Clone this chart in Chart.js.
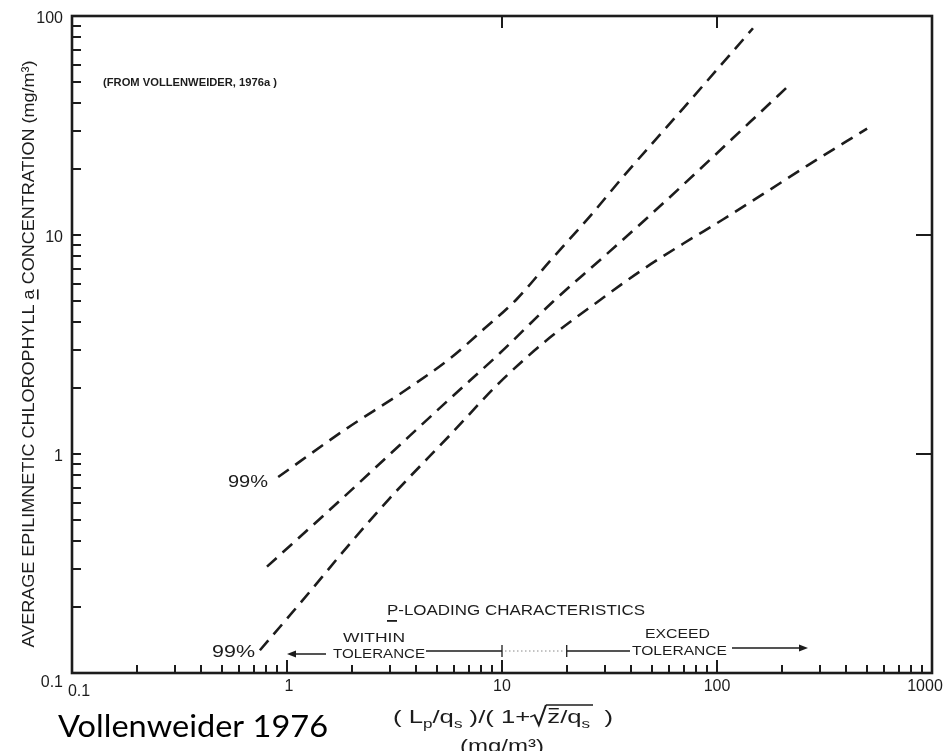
<!DOCTYPE html>
<html><head><meta charset="utf-8">
<script src="https://cdn.jsdelivr.net/npm/chart.js@4.4.1/dist/chart.umd.min.js"></script>
<style>html,body{margin:0;padding:0;background:#fff;}#wrap{width:946px;height:751px;position:relative;overflow:hidden;}</style>
</head><body><div id="wrap"><canvas id="c" width="946" height="751"></canvas></div>
<script>
// ---- data (x: P-loading, y: chlorophyll a) ----
const X_UPPER = [0.91, 1.90, 3.35, 5.73, 8.16, 11.7, 16.7, 25.7, 36.5, 69.5, 147];
const Y_UPPER = [0.785, 1.31, 1.88, 2.73, 3.69, 5.09, 7.6, 12.2, 18.4, 37.8, 87.9];
const X_MID = [0.807, 1.76, 3.35, 5.73, 9.79, 17.3, 28.6, 48.8, 83.4, 142, 223];
const Y_MID = [0.306, 0.612, 1.10, 1.79, 2.89, 4.97, 7.69, 12.3, 20.0, 32.7, 49.6];
const X_LOW = [0.748, 1.15, 1.96, 3.01, 5.73, 9.79, 16.7, 28.6, 43.8, 69.5, 107, 171, 262, 499];
const Y_LOW = [0.127, 0.208, 0.389, 0.629, 1.22, 2.13, 3.40, 5.05, 6.82, 9.12, 11.8, 15.8, 20.7, 30.6];

const X_TICK_LABELS = [0.1, 1, 10, 100, 1000];
const Y_TICK_LABELS = [0.1, 1, 10, 100];
const X_MINOR = [0.2,0.3,0.4,0.5,0.6,0.7,0.8,0.9, 2,3,4,5,6,7,8,9, 20,30,40,50,60,70,80,90, 200,300,400,500,600,700,800,900];
const X_MAJOR = [1, 10, 100];
const Y_MINOR = [0.2,0.3,0.4,0.5,0.6,0.7,0.8,0.9, 2,3,4,5,6,7,8,9, 20,30,40,50,60,70,80,90];
const Y_MAJOR = [1, 10];
const TOP_TICKS = [10, 100];
const RIGHT_TICKS = [1, 10];
const TOL_MARKS = [10, 20];

const INK = '#1c1c1c';
const F = '"Liberation Sans", Arial, sans-serif';

function pts(xs, ys){ return xs.map((x,i)=>({x:x, y:ys[i]})); }

function fitText(ctx, str, x, y, width, align){
  const w = ctx.measureText(str).width;
  const s = width ? width / w : 1;
  ctx.save();
  ctx.translate(x, y);
  ctx.scale(s, 1);
  ctx.textAlign = 'left';
  let ox = 0;
  if (align === 'center') ox = -w/2; else if (align === 'right') ox = -w;
  ctx.fillText(str, ox, 0);
  ctx.restore();
  return s;
}

const decor = {
  id: 'decor',
  afterDraw(chart){
    const ctx = chart.ctx, a = chart.chartArea;
    const xs = chart.scales.x, ys = chart.scales.y;
    ctx.save();
    ctx.strokeStyle = INK; ctx.fillStyle = INK;
    // frame
    ctx.lineWidth = 2.6;
    ctx.strokeRect(a.left, a.top, a.right - a.left, a.bottom - a.top);
    // bottom ticks
    ctx.lineWidth = 2;
    ctx.beginPath();
    X_MINOR.forEach(v=>{ const p = Math.round(xs.getPixelForValue(v)); ctx.moveTo(p, a.bottom); ctx.lineTo(p, a.bottom-8); });
    X_MAJOR.forEach(v=>{ const p = Math.round(xs.getPixelForValue(v)); ctx.moveTo(p, a.bottom); ctx.lineTo(p, a.bottom-13); });
    // left ticks
    Y_MINOR.concat(Y_MAJOR).forEach(v=>{ const p = Math.round(ys.getPixelForValue(v)); ctx.moveTo(a.left, p); ctx.lineTo(a.left+9, p); });
    // top ticks
    TOP_TICKS.forEach(v=>{ const p = Math.round(xs.getPixelForValue(v)); ctx.moveTo(p, a.top); ctx.lineTo(p, a.top+12); });
    // right ticks
    RIGHT_TICKS.forEach(v=>{ const p = Math.round(ys.getPixelForValue(v)); ctx.moveTo(a.right, p); ctx.lineTo(a.right-16, p); });
    ctx.stroke();

    // tick labels
    ctx.font = '16px ' + F;
    ctx.textBaseline = 'middle';
    const xOff = {0.1: 7, 1: 2, 10: 0, 100: 0, 1000: -7};
    X_TICK_LABELS.forEach(v=>{
      const p = xs.getPixelForValue(v);
      ctx.textAlign = 'center';
      ctx.fillText(String(v), p + xOff[v], v === 0.1 ? a.bottom + 19 : a.bottom + 14);
    });
    Y_TICK_LABELS.forEach(v=>{
      const p = ys.getPixelForValue(v);
      ctx.textAlign = 'right';
      ctx.fillText(String(v), a.left - 9, v === 0.1 ? p + 10 : p + 3);
    });

    // y axis title
    ctx.save();
    ctx.translate(29, 354);
    ctx.rotate(-Math.PI/2);
    ctx.font = '17px ' + F;
    ctx.textBaseline = 'middle';
    const yTitle = 'AVERAGE EPILIMNETIC CHLOROPHYLL a CONCENTRATION (mg/m\u00B3)';
    const w0 = ctx.measureText(yTitle).width;
    const sc = 587 / w0;
    ctx.scale(sc, 1);
    ctx.textAlign = 'left';
    ctx.fillText(yTitle, -w0/2, 0);
    const pre = ctx.measureText('AVERAGE EPILIMNETIC CHLOROPHYLL ').width;
    const aw = ctx.measureText('a').width;
    ctx.fillRect(-w0/2 + pre, 8, aw, 1.6);
    ctx.restore();

    // source note
    ctx.font = 'bold 10px ' + F;
    ctx.textBaseline = 'alphabetic';
    fitText(ctx, '(FROM VOLLENWEIDER, 1976a )', 103, 86, 174);

    // 99% labels
    ctx.font = '16px ' + F;
    fitText(ctx, '99%', 228, 487, 40);
    fitText(ctx, '99%', 212, 657, 43);

    // P-loading characteristics
    ctx.font = '15px ' + F;
    fitText(ctx, 'P-LOADING CHARACTERISTICS', 387, 615, 258);
    ctx.fillRect(387, 620, 10, 1.8);
    ctx.font = '13.5px ' + F;
    fitText(ctx, 'WITHIN', 343, 642, 62);
    fitText(ctx, 'TOLERANCE', 333, 658, 92);
    fitText(ctx, 'EXCEED', 645, 638, 65);
    fitText(ctx, 'TOLERANCE', 632, 655, 95);

    ctx.lineWidth = 1.3;
    ctx.beginPath();
    ctx.moveTo(292, 654); ctx.lineTo(326, 654);
    ctx.moveTo(426, 651); ctx.lineTo(xs.getPixelForValue(TOL_MARKS[0]), 651);
    ctx.moveTo(xs.getPixelForValue(TOL_MARKS[1]), 651); ctx.lineTo(630, 651);
    ctx.moveTo(732, 648); ctx.lineTo(802, 648);
    TOL_MARKS.forEach(v=>{ const p = xs.getPixelForValue(v); ctx.moveTo(p, 645); ctx.lineTo(p, 657); });
    ctx.stroke();
    // dotted segment
    ctx.save(); ctx.setLineDash([1.5, 2.5]); ctx.strokeStyle = '#888'; ctx.lineWidth = 1;
    ctx.beginPath(); ctx.moveTo(xs.getPixelForValue(TOL_MARKS[0]) + 3, 651); ctx.lineTo(xs.getPixelForValue(TOL_MARKS[1]) - 2, 651); ctx.stroke();
    ctx.restore();
    // arrowheads
    ctx.beginPath(); ctx.moveTo(287, 654); ctx.lineTo(296, 650.5); ctx.lineTo(296, 657.5); ctx.closePath(); ctx.fill();
    ctx.beginPath(); ctx.moveTo(808, 648); ctx.lineTo(799, 644.5); ctx.lineTo(799, 651.5); ctx.closePath(); ctx.fill();

    // x axis title formula
    drawFormula(ctx, 393, 723, 220);
    ctx.font = '18px ' + F;
    ctx.textBaseline = 'alphabetic';
    fitText(ctx, '(mg/m\u00B3)', 502, 752, 84, 'center');

    // caption
    ctx.fillStyle = '#000';
    ctx.font = '30px Lato, "Open Sans", sans-serif';
    fitText(ctx, 'Vollenweider 1976', 58, 737, 270);
    ctx.restore();
  }
};

function drawFormula(ctx, x0, base, targetW){
  const big = '18px ' + F, small = '12px ' + F;
  const segs = [
    {t:'( L', f:big}, {t:'p', f:small, dy:5}, {t:'/q', f:big}, {t:'s', f:small, dy:5},
    {t:' )/( 1+', f:big}, {rad:true, w:12}, {t:'z', f:big, bar:true}, {t:'/q', f:big}, {t:'s', f:small, dy:5}, {t:'  )', f:big}
  ];
  let total = 0;
  segs.forEach(s=>{ if (s.rad) { s.width = s.w; } else { ctx.font = s.f; s.width = ctx.measureText(s.t).width; } total += s.width; });
  const sc = targetW / total;
  ctx.save();
  ctx.translate(x0, base);
  ctx.scale(sc, 1);
  ctx.textBaseline = 'alphabetic'; ctx.textAlign = 'left';
  let x = 0, radStart = null, radEnd = null;
  segs.forEach((s, i)=>{
    if (s.rad){
      radStart = x;
      ctx.lineWidth = 1.4;
      ctx.beginPath();
      ctx.moveTo(x, -6); ctx.lineTo(x+3, -8); ctx.lineTo(x+6, 2); ctx.lineTo(x+11, -18);
      ctx.stroke();
    } else {
      ctx.font = s.f;
      ctx.fillText(s.t, x, s.dy || 0);
      if (s.bar){ ctx.fillRect(x+1, -15, s.width-2, 1.4); }
    }
    x += s.width;
    if (i === 8) radEnd = x + 2;
  });
  ctx.lineWidth = 1.4;
  ctx.beginPath(); ctx.moveTo(radStart + 11, -18); ctx.lineTo(radEnd, -18); ctx.stroke();
  ctx.restore();
}

const dsStyle = { showLine: true, borderColor: INK, borderWidth: 2.6, borderDash: [13, 8], pointRadius: 0, cubicInterpolationMode: 'monotone', fill: false };

new Chart(document.getElementById('c'), {
  type: 'scatter',
  data: { datasets: [
    Object.assign({ label: 'Upper 99%', data: pts(X_UPPER, Y_UPPER) }, dsStyle),
    Object.assign({ label: 'Mean', data: pts(X_MID, Y_MID) }, dsStyle),
    Object.assign({ label: 'Lower 99%', data: pts(X_LOW, Y_LOW) }, dsStyle)
  ]},
  options: {
    responsive: false, animation: false,
    layout: { padding: { top: 16, right: 14, left: 0, bottom: 0 } },
    plugins: { legend: { display: false }, tooltip: { enabled: false } },
    scales: {
      x: { type: 'logarithmic', min: 0.1, max: 1000, position: 'bottom',
           grid: { display: false, drawTicks: false }, border: { display: false },
           ticks: { display: false },
           afterBuildTicks: s => { s.ticks = X_TICK_LABELS.map(v => ({ value: v })); },
           afterFit: s => { s.height = 78; } },
      y: { type: 'logarithmic', min: 0.1, max: 100, position: 'left',
           grid: { display: false, drawTicks: false }, border: { display: false },
           ticks: { display: false },
           afterBuildTicks: s => { s.ticks = Y_TICK_LABELS.map(v => ({ value: v })); },
           afterFit: s => { s.width = 72; } }
    }
  },
  plugins: [decor]
});
</script></body></html>
